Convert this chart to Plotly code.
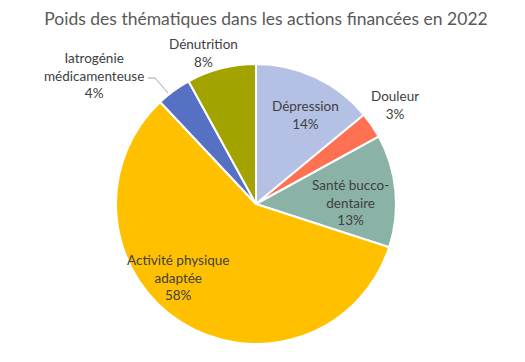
import plotly.graph_objects as go

labels = ["Dépression", "Douleur", "Santé bucco-dentaire", "Activité physique adaptée",
          "Iatrogénie médicamenteuse", "Dénutrition"]
values = [14, 3, 13, 58, 4, 8]
colors = ["#B4C1E5", "#FF7152", "#8BB2A7", "#FFC000", "#5670C4", "#A3A300"]
label_texts = ["Dépression<br>14%", "Douleur<br>3%", "Santé bucco-<br>dentaire<br>13%",
               "Activité physique<br>adaptée<br>58%", "Iatrogénie<br>médicamenteuse<br>4%",
               "Dénutrition<br>8%"]
label_pos = [(305, 115), (395, 105), (350, 202), (178, 277), (94, 76), (203, 53)]

W, H = 525, 362
OX, OY = 8, 8  # page offset compensation


def px(x):
    return (x - OX) / W


def py(y):
    return 1 - (y - OY) / H


fig = go.Figure(go.Pie(
    labels=labels, values=values, sort=False, direction="clockwise", rotation=0,
    marker=dict(colors=colors, line=dict(color="white", width=2)),
    textinfo="none", hoverinfo="label+percent", showlegend=False,
    domain=dict(x=[px(116), px(396)], y=[py(344), py(64)]),
))

for t, (x, y) in zip(label_texts, label_pos):
    fig.add_annotation(x=px(x), y=py(y), xref="paper", yref="paper", text=t,
                       showarrow=False, font=dict(size=13.5, color="#404040", family="Lato"),
                       align="center", xanchor="center", yanchor="middle")

# leader line for Iatrogénie
fig.add_shape(type="path",
              path=f"M {px(148)} {py(78)} L {px(155)} {py(78)} L {px(168)} {py(93)}",
              xref="paper", yref="paper", line=dict(color="#A6A6A6", width=1))

fig.update_layout(
    width=W, height=H, margin=dict(l=0, r=0, t=0, b=0),
    paper_bgcolor="white", plot_bgcolor="white",
    title=dict(text="Poids des thématiques dans les actions financées en 2022",
               x=px(266), xanchor="center", y=py(19), yanchor="middle",
               font=dict(size=17.5, color="#595959", family="Lato")),
)
fig.write_html("out.html")
